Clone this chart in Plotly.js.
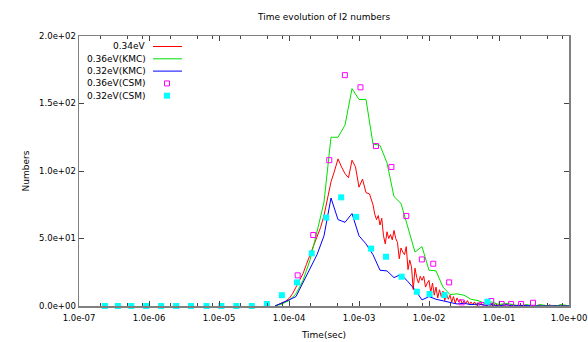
<!DOCTYPE html>
<html><head><meta charset="utf-8">
<script src="https://cdn.plot.ly/plotly-3.0.1.min.js"></script>
<style>html,body{margin:0;padding:0;background:#fff}#chart{width:588px;height:342px}</style>
</head><body><div id="chart"></div>
<script>
// ---------- data ----------
const seriesNames = ['0.34eV', '0.36eV(KMC)', '0.32eV(KMC)', '0.36eV(CSM)', '0.32eV(CSM)'];

// KMC time grid (sec) for 0.36eV and 0.32eV runs
const tKMC = [6.310e-5, 7.943e-5, 1.000e-4, 1.259e-4, 1.585e-4, 1.995e-4, 2.512e-4, 3.162e-4, 3.981e-4, 5.012e-4,
  6.310e-4, 7.943e-4, 1.000e-3, 1.259e-3, 1.585e-3, 1.995e-3, 2.512e-3, 3.162e-3, 3.981e-3, 5.012e-3,
  6.310e-3, 7.943e-3, 1.000e-2, 1.259e-2, 1.585e-2, 1.995e-2, 2.512e-2, 3.162e-2, 3.981e-2, 5.012e-2,
  6.310e-2, 7.943e-2, 1.000e-1, 1.259e-1, 1.585e-1, 1.995e-1, 2.512e-1, 3.162e-1, 3.981e-1, 5.012e-1,
  6.310e-1, 7.943e-1, 1.000];
const kmc036 = [0, 1.5, 4, 9, 19, 34, 55, 77, 125, 125,
  134, 161, 153, 153, 120, 119, 106, 81, 76, 58,
  40, 44, 26.5, 26, 14, 8.5, 9, 8, 5, 4,
  2, 3, 1, 2, 1, 0, 1, 0, 1, 0,
  0, 1, 0];
const kmc032 = [0, 2, 4.5, 7, 17, 27, 38, 52, 80, 64,
  62, 68.5, 52, 46, 38, 26.5, 26, 21, 23.5, 18,
  12, 4.5, 7, 5, 4, 2.5, 1.5, 2, 1, 1.5,
  0.5, 1, 0, 1, 0, 0.5, 0, 0, 0, 0,
  0, 0, 0];

// 0.34eV run (finer output)
const tRed = [6.310e-5, 7.079e-5, 7.943e-5, 8.913e-5, 1.000e-4, 1.122e-4, 1.259e-4, 1.413e-4, 1.585e-4, 1.778e-4,
  1.995e-4, 2.239e-4, 2.512e-4, 2.818e-4, 3.162e-4, 3.548e-4, 3.981e-4, 4.467e-4, 5.012e-4, 5.623e-4,
  6.310e-4, 7.079e-4, 7.943e-4, 8.913e-4, 1.000e-3, 1.122e-3, 1.259e-3, 1.413e-3, 1.585e-3,
  1.679e-3, 1.778e-3, 1.884e-3, 1.995e-3, 2.113e-3, 2.239e-3, 2.371e-3, 2.512e-3, 2.661e-3, 2.818e-3,
  2.985e-3, 3.162e-3, 3.350e-3, 3.548e-3, 3.758e-3, 3.981e-3, 4.217e-3, 4.467e-3, 4.732e-3, 5.012e-3,
  5.309e-3, 5.623e-3, 5.957e-3, 6.310e-3, 6.683e-3, 7.079e-3, 7.499e-3, 7.943e-3, 8.414e-3, 8.913e-3,
  9.441e-3, 1.000e-2,
  1.059e-2, 1.122e-2, 1.189e-2, 1.259e-2, 1.334e-2, 1.413e-2, 1.496e-2, 1.585e-2, 1.679e-2, 1.778e-2,
  1.884e-2, 1.995e-2, 2.113e-2, 2.239e-2, 2.371e-2, 2.512e-2, 2.661e-2, 2.818e-2, 2.985e-2, 3.162e-2,
  3.350e-2, 3.548e-2, 3.758e-2, 3.981e-2, 4.217e-2, 4.467e-2, 4.732e-2, 5.012e-2, 5.309e-2, 5.623e-2,
  5.957e-2, 6.310e-2, 6.683e-2, 7.079e-2, 7.499e-2, 7.943e-2, 8.414e-2, 8.913e-2, 9.441e-2, 1.000e-1,
  1.059e-1, 1.122e-1, 1.189e-1, 1.259e-1, 1.334e-1, 1.413e-1, 1.496e-1, 1.585e-1, 1.679e-1, 1.778e-1,
  1.884e-1, 1.995e-1, 2.113e-1, 2.239e-1, 2.371e-1, 2.512e-1, 2.661e-1, 2.818e-1, 2.985e-1, 3.162e-1,
  3.350e-1, 3.548e-1, 3.758e-1, 3.981e-1, 4.217e-1, 4.467e-1, 4.732e-1, 5.012e-1, 5.309e-1, 5.623e-1,
  5.957e-1, 6.310e-1, 6.683e-1, 7.079e-1, 7.499e-1, 7.943e-1, 8.414e-1, 8.913e-1, 9.441e-1, 1.000];
const red034 = [0, 1, 2, 3.5, 5.5, 9, 14, 19, 24, 31,
  38, 44, 51, 58, 67, 80, 92, 100, 109, 103,
  98, 95, 108, 103, 88, 94, 84, 83, 75,
  68, 64, 67, 60, 65, 52, 46, 55, 50, 53,
  49, 56, 50, 47, 35, 43, 40, 38, 44, 27,
  34, 29, 12, 28, 21, 17, 22, 19, 22, 14,
  17, 19,
  10, 17, 8, 14, 6, 12, 7, 11, 4, 9,
  5, 8, 3, 7, 2, 6, 3, 5, 1.5, 4,
  2, 4, 1, 3, 1, 3, 0.5, 2.5, 1, 2,
  0.5, 2, 0, 1.5, 0.5, 1, 0, 2, 0.5, 1,
  0, 1.5, 0, 1, 0.5, 0, 1.5, 0, 0.5, 0,
  1, 0, 0.5, 0, 1, 0, 0, 1, 0, 0.5,
  0, 0, 1, 0, 0, 0.5, 0, 0, 1, 0,
  0, 0.5, 0, 0, 1, 0, 0, 0.5, 0, 0];

// CSM results
const tCsm036 = [1.33e-4, 2.22e-4, 3.76e-4, 6.28e-4, 1.05e-3, 1.75e-3, 2.90e-3, 4.74e-3, 7.91e-3, 1.15e-2,
  1.94e-2, 2.93e-2, 5.64e-2, 7.74e-2, 0.109, 0.149, 0.207, 0.306];
const csm036 = [22.7, 52.6, 108, 171, 162, 118.5, 103, 66.7, 34.5, 31.3,
  17.5, 2.7, 0.7, 3.7, 1.5, 1.5, 1.5, 2.4];
const tCsm032 = [2.34e-7, 3.59e-7, 5.58e-7, 9.12e-7, 1.49e-6, 2.44e-6, 3.98e-6, 6.62e-6, 1.08e-5, 1.77e-5,
  2.94e-5, 4.83e-5, 7.90e-5, 1.30e-4, 2.11e-4, 3.40e-4, 5.56e-4, 9.10e-4, 1.49e-3, 2.43e-3,
  4.06e-3, 6.70e-3, 1.02e-2, 1.66e-2, 6.85e-2];
const csm032 = [0, 0, 0, 0, 0, 0, 0, 0, 0, 0,
  0, 1.5, 8, 17.5, 39, 65.5, 80.5, 66, 42.5, 36.5,
  21.7, 10.6, 8.9, 8.1, 3.2];

// ticks
const xTickVals = [1e-7, 1e-6, 1e-5, 1e-4, 1e-3, 1e-2, 1e-1, 1];
const xTickText = ['1.0e-07', '1.0e-06', '1.0e-05', '1.0e-04', '1.0e-03', '1.0e-02', '1.0e-01', '1.0e+00'];
const xMinorVals = [2e-7, 5e-7, 8e-7, 2e-6, 5e-6, 8e-6, 2e-5, 5e-5, 8e-5, 2e-4, 5e-4, 8e-4,
  2e-3, 5e-3, 8e-3, 2e-2, 5e-2, 8e-2, 2e-1, 5e-1, 8e-1];
const yTickVals = [0, 50, 100, 150, 200];
const yTickText = ['0.0e+00', '5.0e+01', '1.0e+02', '1.5e+02', '2.0e+02'];

// ---------- styling ----------
const FONT = 'DejaVu Sans, sans-serif';
const colors = ['#ff0000', '#00e000', '#0000ff', '#ff00ff', '#00ffff'];
const W = 588, H = 342, ML = 79, MR = 19, MT = 36, MB = 36;
const PW = W - ML - MR, PH = H - MT - MB;

const traces = [
  {x: tRed, y: red034, name: seriesNames[0], type: 'scatter', mode: 'lines', line: {color: colors[0], width: 1}, cliponaxis: false},
  {x: tKMC, y: kmc036, name: seriesNames[1], type: 'scatter', mode: 'lines', line: {color: colors[1], width: 1}, cliponaxis: false},
  {x: tKMC, y: kmc032, name: seriesNames[2], type: 'scatter', mode: 'lines', line: {color: colors[2], width: 1}, cliponaxis: false},
  {x: tCsm036, y: csm036, name: seriesNames[3], type: 'scatter', mode: 'markers',
   marker: {symbol: 'square-open', size: 5, color: colors[3], line: {color: colors[3], width: 1}}, cliponaxis: false},
  {x: tCsm032, y: csm032, name: seriesNames[4], type: 'scatter', mode: 'markers',
   marker: {symbol: 'square', size: 6, color: colors[4], line: {width: 0}}, cliponaxis: false}
];

// gnuplot-style key: text right-aligned, sample to its right
const keyRowsPx = [46.5, 58.8, 71.1, 83.4, 95.7];
const px2x = p => (p - ML) / PW;
const px2y = p => (H - MB - p) / PH;
const annotations = [];
const shapes = [];
seriesNames.forEach((nm, i) => {
  const yy = px2y(keyRowsPx[i]);
  annotations.push({xref: 'paper', yref: 'paper', x: px2x(147), y: yy, xanchor: 'right', yanchor: 'middle',
    text: nm, showarrow: false, font: {family: FONT, size: 9, color: '#000'}, borderpad: 0});
  if (i < 3) {
    shapes.push({type: 'line', xref: 'paper', yref: 'paper', x0: px2x(153), x1: px2x(182), y0: yy, y1: yy,
      line: {color: colors[i], width: 1}});
  } else {
    const cx = 167, cy = keyRowsPx[i], h = i === 3 ? 2.5 : 3;
    shapes.push({type: 'rect', xref: 'paper', yref: 'paper', x0: px2x(cx - h), x1: px2x(cx + h),
      y0: px2y(cy + h), y1: px2y(cy - h),
      line: {color: colors[i], width: i === 3 ? 1 : 0},
      fillcolor: i === 3 ? 'rgba(0,0,0,0)' : colors[i]});
  }
});

const axisCommon = {
  showline: true, linecolor: '#808080', linewidth: 1.5, mirror: 'ticks',
  ticks: 'inside', ticklen: 5, tickwidth: 1, tickcolor: '#444',
  showgrid: false, zeroline: false, ticklabeloverflow: 'allow',
  tickfont: {family: FONT, size: 8.5, color: '#000'}
};

const layout = {
  width: W, height: H,
  margin: {l: ML, r: MR, t: MT, b: MB, pad: 0},
  paper_bgcolor: '#fff', plot_bgcolor: '#fff',
  showlegend: false,
  font: {family: FONT, size: 9, color: '#000'},
  title: {text: 'Time evolution of I2 numbers', font: {family: FONT, size: 9, color: '#000'},
    x: 0.5, xref: 'paper', xanchor: 'center', y: 1 - 17 / H, yref: 'container', yanchor: 'middle'},
  xaxis: Object.assign({}, axisCommon, {
    type: 'log', range: [-7, 0], tickmode: 'array', tickvals: xTickVals, ticktext: xTickText,
    ticklabelstandoff: 3,
    minor: {tickmode: 'array', tickvals: xMinorVals, ticks: 'inside', ticklen: 3, tickwidth: 1, tickcolor: '#444', showgrid: false},
    title: {text: 'Time(sec)', font: {family: FONT, size: 9, color: '#000'}, standoff: 10}
  }),
  yaxis: Object.assign({}, axisCommon, {
    range: [0, 200], tickmode: 'array', tickvals: yTickVals, ticktext: yTickText,
    title: {text: 'Numbers', font: {family: FONT, size: 9, color: '#000'}, standoff: 8}
  }),
  annotations: annotations,
  shapes: shapes
};

Plotly.newPlot('chart', traces, layout, {displayModeBar: false, staticPlot: true});
</script>
</body></html>
